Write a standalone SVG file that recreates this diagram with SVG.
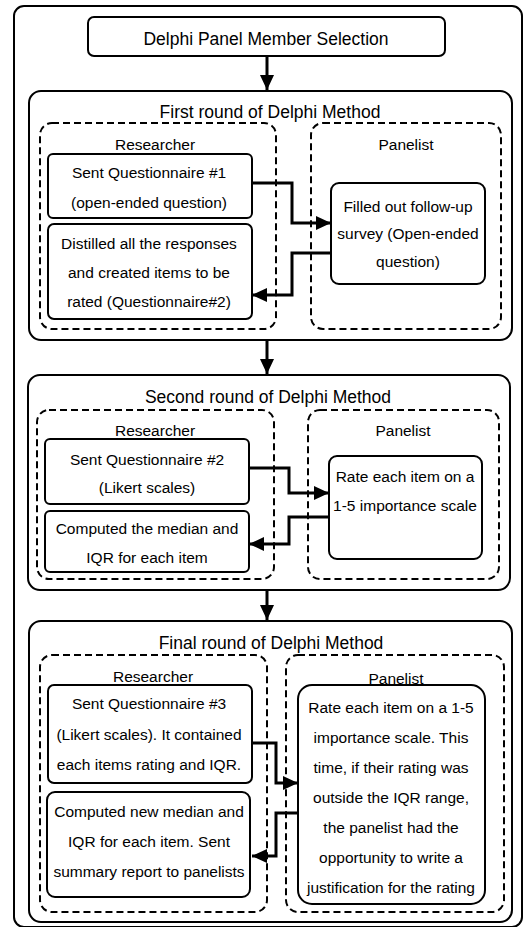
<svg xmlns="http://www.w3.org/2000/svg" width="527" height="927" viewBox="0 0 527 927">
<style>
.t{font-family:"Liberation Sans",Arial,sans-serif;font-size:15.5px;fill:#000;text-anchor:middle}
.h{font-family:"Liberation Sans",Arial,sans-serif;font-size:17.5px;fill:#000;text-anchor:middle}
.box{fill:#fff;stroke:#000;stroke-width:2}
.round{fill:#fff;stroke:#000;stroke-width:2}
.dash{fill:none;stroke:#000;stroke-width:2;stroke-dasharray:7 4}
.c{fill:none;stroke:#000;stroke-width:3}
</style>
<defs>
<marker id="ah" markerUnits="userSpaceOnUse" markerWidth="16" markerHeight="16" refX="15" refY="7" orient="auto">
<path d="M0,0 L15,7 L0,14 Z" fill="#000"/>
</marker>
</defs>
<rect x="14" y="6" width="508" height="921" rx="10" fill="#fff" stroke="#000" stroke-width="2"/>
<g id="selection">
<rect class="box" x="88" y="17" width="357" height="39" rx="6"/>
<text class="h" x="266" y="45">Delphi Panel Member Selection</text>
</g>
<g id="round1">
<rect class="round" x="29" y="91" width="483" height="249" rx="12"/>
<text class="h" x="270" y="118">First round of Delphi Method</text>
<g id="r1-researcher">
<rect class="dash" x="40" y="123" width="236" height="206" rx="12"/>
<text class="t" x="155" y="150">Researcher</text>
</g>
<g id="r1-panelist">
<rect class="dash" x="311" y="123" width="190" height="206" rx="12"/>
<text class="t" x="406" y="150">Panelist</text>
</g>
<g id="r1-sent">
<rect class="box" x="48" y="154" width="204" height="64" rx="5"/>
<text class="t" x="149" y="178">Sent Questionnaire #1</text>
<text class="t" x="149" y="208">(open-ended question)</text>
</g>
<g id="r1-distilled">
<rect class="box" x="48" y="224" width="204" height="95" rx="6"/>
<text class="t" x="149" y="249">Distilled all the responses</text>
<text class="t" x="149" y="278">and created items to be</text>
<text class="t" x="149" y="307">rated (Questionnaire#2)</text>
</g>
<g id="r1-filled">
<rect class="box" x="331" y="183" width="154" height="101" rx="8"/>
<text class="t" x="408" y="212">Filled out follow-up</text>
<text class="t" x="408" y="239">survey (Open-ended</text>
<text class="t" x="408" y="267">question)</text>
</g>
</g>
<g id="round2">
<rect class="round" x="28" y="375" width="482" height="215" rx="12"/>
<text class="h" x="268" y="403">Second round of Delphi Method</text>
<g id="r2-researcher">
<rect class="dash" x="37" y="410" width="237" height="169" rx="12"/>
<text class="t" x="155" y="436">Researcher</text>
</g>
<g id="r2-panelist">
<rect class="dash" x="308" y="410" width="191" height="169" rx="12"/>
<text class="t" x="403" y="436">Panelist</text>
</g>
<g id="r2-sent">
<rect class="box" x="45" y="439" width="204" height="65" rx="5"/>
<text class="t" x="147" y="465">Sent Questionnaire #2</text>
<text class="t" x="147" y="493">(Likert scales)</text>
</g>
<g id="r2-computed">
<rect class="box" x="45" y="511" width="204" height="61" rx="5"/>
<text class="t" x="147" y="534">Computed the median and</text>
<text class="t" x="147" y="563">IQR for each item</text>
</g>
<g id="r2-rate">
<rect class="box" x="329" y="456" width="153" height="103" rx="8"/>
<text class="t" x="405" y="482">Rate each item on a</text>
<text class="t" x="405" y="511">1-5 importance scale</text>
</g>
</g>
<g id="round3">
<rect class="round" x="29" y="621" width="483" height="301" rx="12"/>
<text class="h" x="271" y="649">Final round of Delphi Method</text>
<g id="r3-researcher">
<rect class="dash" x="40" y="655" width="227" height="257" rx="12"/>
<text class="t" x="153" y="682">Researcher</text>
</g>
<g id="r3-panelist">
<rect class="dash" x="286" y="655" width="218" height="257" rx="12"/>
<text class="t" x="396" y="684">Panelist</text>
</g>
<g id="r3-sent">
<rect class="box" x="48" y="685" width="204" height="98" rx="6"/>
<text class="t" x="149" y="709">Sent Questionnaire #3</text>
<text class="t" x="149" y="740">(Likert scales). It contained</text>
<text class="t" x="149" y="770">each items rating and IQR.</text>
</g>
<g id="r3-computed">
<rect class="box" x="47" y="792" width="203" height="105" rx="8"/>
<text class="t" x="149" y="817">Computed new median and</text>
<text class="t" x="149" y="847">IQR for each item. Sent</text>
<text class="t" x="149" y="877">summary report to panelists</text>
</g>
<g id="r3-rate">
<rect class="box" x="298" y="685" width="187" height="219" rx="14"/>
<text class="t" x="391" y="713">Rate each item on a 1-5</text>
<text class="t" x="391" y="743">importance scale. This</text>
<text class="t" x="391" y="773">time, if their rating was</text>
<text class="t" x="391" y="803">outside the IQR range,</text>
<text class="t" x="391" y="833">the panelist had the</text>
<text class="t" x="391" y="863">opportunity to write a</text>
<text class="t" x="391" y="893">justification for the rating</text>
</g>
</g>
<g id="connectors">
<path class="c" d="M267,56 V90" marker-end="url(#ah)"/>
<path class="c" d="M267,340 V374" marker-end="url(#ah)"/>
<path class="c" d="M267,590 V620" marker-end="url(#ah)"/>
<path class="c" d="M252,183 H292 V223 H331" marker-end="url(#ah)"/>
<path class="c" d="M331,253 H292 V295 H252" marker-end="url(#ah)"/>
<path class="c" d="M249,468 H289 V493 H329" marker-end="url(#ah)"/>
<path class="c" d="M329,517 H289 V544 H249" marker-end="url(#ah)"/>
<path class="c" d="M252,743 H276 V783 H298" marker-end="url(#ah)"/>
<path class="c" d="M298,813 H276 V856 H252" marker-end="url(#ah)"/>
</g>
</svg>
